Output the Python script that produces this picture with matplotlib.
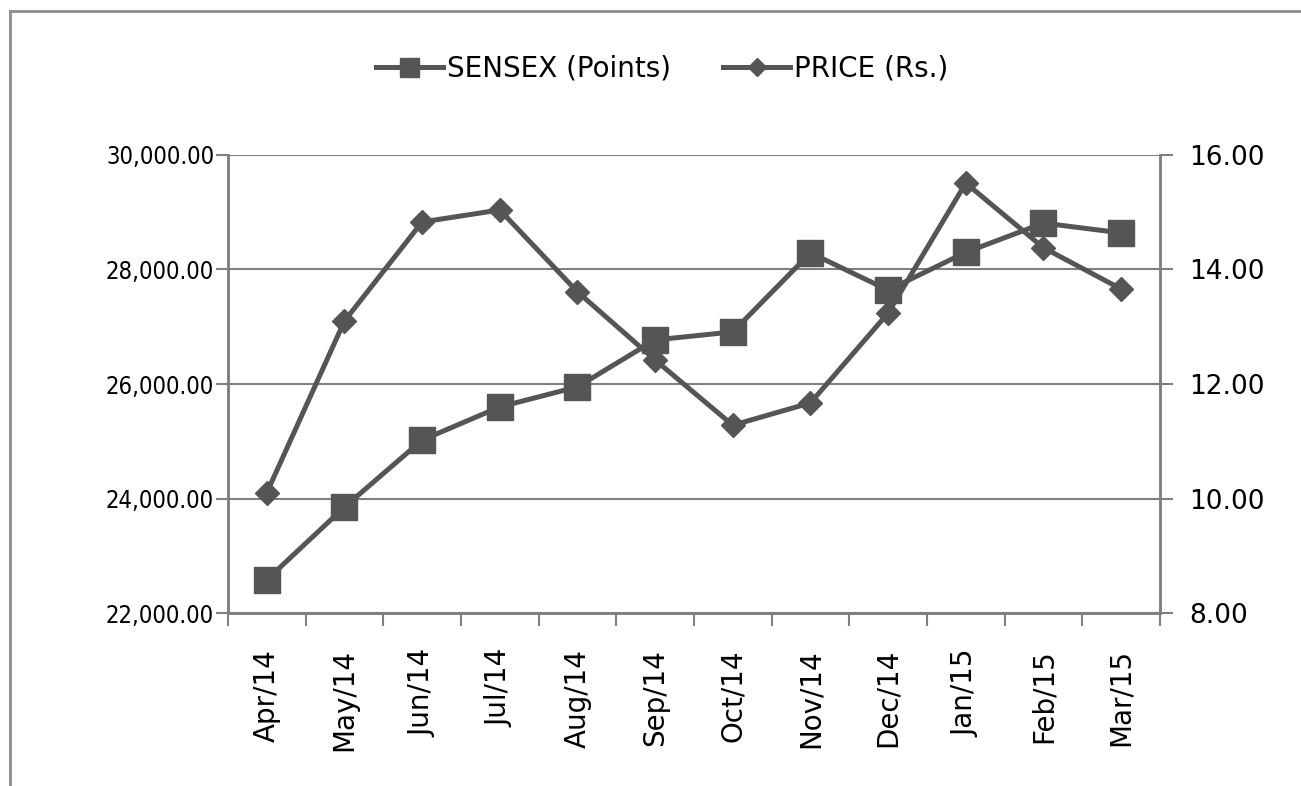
import numpy as np
import matplotlib.pyplot as plt
from matplotlib.lines import Line2D

months = ['Apr/14', 'May/14', 'Jun/14', 'Jul/14', 'Aug/14', 'Sep/14',
          'Oct/14', 'Nov/14', 'Dec/14', 'Jan/15', 'Feb/15', 'Mar/15']
sensex = [22580, 23850, 25020, 25600, 25950, 26770,
          26910, 28290, 27640, 28300, 28810, 28640]
price = [10.10, 13.10, 14.83, 15.04, 13.61, 12.42,
         11.28, 11.67, 13.24, 15.51, 14.38, 13.66]

left_ticks = [22000, 24000, 26000, 28000, 30000]
right_ticks = [8, 10, 12, 14, 16]

line_col = '#555555'
grid_col = '#7f7f7f'

fig = plt.figure(figsize=(13.01, 7.86), dpi=100)
ax = fig.add_axes([0.1752, 0.2201, 0.7164, 0.5827])
ax2 = ax.twinx()

x = np.arange(len(months))
l1, = ax.plot(x, sensex, color=line_col, lw=3.6, marker='s', ms=19,
              label='SENSEX (Points)', zorder=3)
l2, = ax2.plot(x, price, color=line_col, lw=3.6, marker='D', ms=12.5,
               label='PRICE (Rs.)', zorder=3)

ax.set_xlim(-0.5, len(months) - 0.5)
ax.set_ylim(22000, 30000)
ax2.set_ylim(8, 16)
ax.set_yticks(left_ticks)
ax.set_yticklabels([f'{v:,.2f}' for v in left_ticks],
                   family='DejaVu Sans', stretch='condensed', fontsize=17)
ax2.set_yticks(right_ticks)
ax2.set_yticklabels([f'{v:.2f}' for v in right_ticks], fontsize=19)

ax.set_xticks(x)
ax.set_xticklabels(months, rotation=90, fontsize=20)
ax.set_xticks(np.arange(-0.5, len(months)), minor=True)
ax.tick_params(axis='x', which='major', length=0, pad=26)
ax.tick_params(axis='x', which='minor', length=9, width=1.5, color=grid_col, direction='out')
ax.tick_params(axis='y', length=9, width=1.5, color=grid_col, pad=1)
ax2.tick_params(axis='y', length=9, width=1.5, color=grid_col, pad=12)

ax.grid(axis='y', color=grid_col, lw=1.5)
ax.set_axisbelow(True)
for a in (ax, ax2):
    a.spines['top'].set_visible(False)
    for s in ('left', 'right', 'bottom'):
        a.spines[s].set_color(grid_col)
        a.spines[s].set_linewidth(1.8)

fig.legend(handles=[l1, l2], loc='center', bbox_to_anchor=(0.509, 0.913),
           ncol=2, frameon=False, fontsize=20, markerscale=0.72,
           handlelength=2.4, handletextpad=0.15, columnspacing=1.9)

# outer chart border (top and left only visible)
bx0, by1 = 10 / 1301, 1 - 11 / 786
for xs, ys in [([bx0, 1], [by1, by1]), ([bx0, bx0], [by1, 0])]:
    fig.add_artist(Line2D(xs, ys, color='#8c8c8c', lw=2, transform=fig.transFigure))

fig.savefig('out.png', dpi=100)
